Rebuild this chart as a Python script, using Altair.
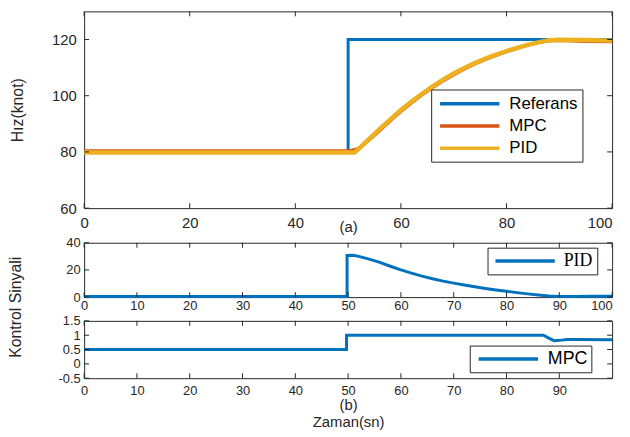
import altair as alt
import pandas as pd

FONT = "Liberation Sans"
SERIF = "Liberation Serif"
INK = "#262626"
BLUE, ORANGE, YELLOW = "#0072BD", "#D95319", "#EDB120"

# ---------------- (a) speed ----------------
ref_t = [0, 50, 50, 100]
ref_v = [80, 80, 120, 120]
mpc_t = [0, 50.3, 52, 54, 56, 58, 60, 62, 64, 66, 68, 70, 72, 74, 76, 78, 80, 82, 84, 86, 88, 90, 95, 100]
mpc_v = [80.4, 80.4, 81.2, 84.2, 87.6, 91.0, 94.3, 97.4, 100.2, 102.8, 105.2, 107.4, 109.4, 111.2,
         112.8, 114.3, 115.6, 116.8, 117.9, 118.8, 119.5, 119.6, 119.3, 119.2]
pid_t = [0, 51.2, 52, 54, 56, 58, 60, 62, 64, 66, 68, 70, 72, 74, 76, 78, 80, 82, 84, 86, 88, 90, 95, 100]
pid_v = [79.8, 79.8, 81.1, 84.6, 88.2, 91.6, 94.9, 97.9, 100.7, 103.3, 105.7, 107.9, 109.9, 111.6,
         113.2, 114.6, 115.9, 117.0, 118.1, 119.0, 119.7, 119.9, 119.8, 119.6]

# ---------------- (b) control signals ----------------
pidu_t = [0, 49.8, 49.8, 51, 52, 54, 56, 58, 60, 62, 64, 66, 68, 70, 72, 74, 76, 78, 80, 82, 84,
          86, 88, 90, 93, 96, 100]
pidu_v = [0.5, 0.5, 30.6, 30.8, 30.0, 28.0, 25.5, 22.7, 20.0, 17.6, 15.4, 13.5, 11.8, 10.3, 8.9,
          7.6, 6.4, 5.3, 4.3, 3.3, 2.4, 1.6, 0.9, 0.5, 0.4, 0.7, 0.6]
mpcu_t = [0, 49.7, 49.7, 87.0, 88.0, 89.0, 90.0, 91.5, 93, 100]
mpcu_v = [0.5, 0.5, 1.0, 1.0, 0.9, 0.81, 0.82, 0.85, 0.85, 0.84]

# tick values
x1_ticks = [0, 20, 40, 60, 80, 100]
y1_ticks = [60, 80, 100, 120]
x2_ticks = [0, 10, 20, 30, 40, 50, 60, 70, 80, 90, 100]
y2_ticks = [0, 20, 40]
x3_ticks = [0, 10, 20, 30, 40, 50, 60, 70, 80, 90]
y3_ticks = [-0.5, 0, 0.5, 1, 1.5]

W = 534
H1, H2, H3 = 199, 55, 58
TICK = 5

LAST_ALIGN = alt.condition("datum.value == 100", alt.value("right"), alt.value("center"))


def df(t, v, s):
    return pd.DataFrame({"t": t, "v": v, "s": s})


def axis(values, pad, size, title=None, **kw):
    base = dict(values=values, ticks=False, tickSize=0, domain=False, grid=False,
                labelFlush=False, labelOverlap=False, labelPadding=pad, labelFontSize=size,
                labelFont=FONT, labelColor=INK, labelExpr="'' + datum.value",
                titleFont=FONT, titleFontWeight="normal", titleColor=INK)
    base.update(kw)
    base["title"] = title
    return alt.Axis(**base)


def tick_layers(xs, ys, xa, ya, xvals, yvals, H):
    xdf = pd.DataFrame({"t": xvals})
    ydf = pd.DataFrame({"v": yvals})
    bx = alt.Chart(xdf).mark_rule(color=INK, strokeWidth=1)
    by = alt.Chart(ydf).mark_rule(color=INK, strokeWidth=1)
    return [
        bx.encode(x=alt.X("t:Q", scale=xs, axis=xa), y=alt.value(0), y2=alt.value(TICK)),
        bx.encode(x=alt.X("t:Q", scale=xs, axis=xa), y=alt.value(H), y2=alt.value(H - TICK)),
        by.encode(y=alt.Y("v:Q", scale=ys, axis=ya), x=alt.value(0), x2=alt.value(TICK)),
        by.encode(y=alt.Y("v:Q", scale=ys, axis=ya), x=alt.value(W), x2=alt.value(W - TICK)),
    ]


def legend(x, y, font, size, pad, soff, loff, sw):
    return alt.Legend(orient="none", legendX=x, legendY=y, title=None,
                      symbolType="M-1,0H7", symbolSize=225, symbolStrokeWidth=sw,
                      symbolOffset=soff, labelOffset=loff, labelFont=font, labelFontSize=size,
                      labelColor="#000000", padding=pad, rowPadding=4.5,
                      fillColor="white", strokeColor=INK)


# ----- top panel -----
xs1 = alt.Scale(domain=[0, 100], nice=False, zero=False)
ys1 = alt.Scale(domain=[60, 130], nice=False, zero=False)
cs1 = alt.Scale(domain=["Referans", "MPC", "PID"], range=[BLUE, ORANGE, YELLOW])
xa1 = axis(x1_ticks, 8, 15, "(a)", titleFontSize=15, titleY=12, titleBaseline="top",
           labelAlign=LAST_ALIGN)
ya1 = axis(y1_ticks, 8, 15, "Hız(knot)", titleFontSize=16, titleX=-59, titleAngle=270,
           titleBaseline="bottom", titleAlign="center")
lg1 = legend(351, 79, FONT, 17, 5, 2, 53, 3.5)


def line1(d, sw):
    return alt.Chart(d).mark_line(strokeWidth=sw).encode(
        x=alt.X("t:Q", scale=xs1, axis=xa1),
        y=alt.Y("v:Q", scale=ys1, axis=ya1),
        color=alt.Color("s:N", scale=cs1, legend=lg1),
    )


top = alt.layer(
    line1(df(ref_t, ref_v, "Referans"), 3),
    line1(df(mpc_t, mpc_v, "MPC"), 3),
    line1(df(pid_t, pid_v, "PID"), 4.5),
    *tick_layers(xs1, ys1, xa1, ya1, x1_ticks, y1_ticks, H1),
).properties(width=W, height=H1)

# ----- middle panel -----
xs2 = alt.Scale(domain=[0, 100], nice=False, zero=False)
ys2 = alt.Scale(domain=[0, 40], nice=False, zero=False)
cs2 = alt.Scale(domain=["PID"], range=[BLUE])
xa2 = axis(x2_ticks, 3, 13, labelAlign=LAST_ALIGN)
ya2 = axis(y2_ticks, 4, 13, "K", titleFontSize=16, titleX=-59, titleAngle=270,
           titleBaseline="bottom", titleAlign="center", titleOpacity=0)
mid = alt.layer(
    alt.Chart(df(pidu_t, pidu_v, "PID")).mark_line(strokeWidth=3).encode(
        x=alt.X("t:Q", scale=xs2, axis=xa2),
        y=alt.Y("v:Q", scale=ys2, axis=ya2),
        color=alt.Color("s:N", scale=cs2, legend=legend(408, 5, SERIF, 18, 4, 2, 52, 3.5)),
    ),
    *tick_layers(xs2, ys2, xa2, ya2, x2_ticks, y2_ticks, H2),
).properties(width=W, height=H2)

# ----- bottom panel -----
xs3 = alt.Scale(domain=[0, 100], nice=False, zero=False)
ys3 = alt.Scale(domain=[-0.5, 1.5], nice=False, zero=False)
cs3 = alt.Scale(domain=["MPC"], range=[BLUE])
xa3 = axis(x3_ticks, 6, 13, ["(b)", "Zaman(sn)"], titleFontSize=15, titleY=20,
           titleBaseline="top", titleLineHeight=17)
ya3 = axis(y3_ticks, 4, 13, "K", titleFontSize=16, titleX=-59, titleAngle=270,
           titleBaseline="bottom", titleAlign="center", titleOpacity=0)
bot = alt.layer(
    alt.Chart(df(mpcu_t, mpcu_v, "MPC")).mark_line(strokeWidth=3).encode(
        x=alt.X("t:Q", scale=xs3, axis=xa3),
        y=alt.Y("v:Q", scale=ys3, axis=ya3),
        color=alt.Color("s:N", scale=cs3, legend=legend(390, 25, FONT, 18, 4, 3, 53, 3.5)),
    ),
    *tick_layers(xs3, ys3, xa3, ya3, x3_ticks, y3_ticks, H3),
).properties(width=W, height=H3)

chart = alt.vconcat(
    top, mid, bot, spacing=0, padding=0,
    title=alt.TitleParams("Kontrol Sinyali", orient="left", anchor="middle", offset=-15, dx=-88,
                          fontSize=16, font=FONT, fontWeight="normal", color=INK),
).resolve_scale(color="independent").configure_view(stroke=INK, strokeWidth=1)

chart.save("out.html", embed_options={"renderer": "svg", "actions": False})
